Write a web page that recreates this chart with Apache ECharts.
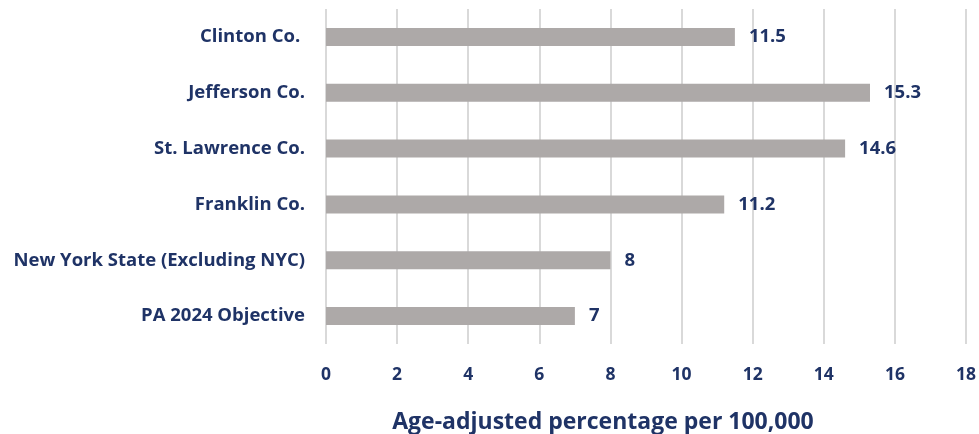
<!DOCTYPE html>
<html><head><meta charset="utf-8">
<script src="https://cdn.jsdelivr.net/npm/echarts@6/dist/echarts.min.js"></script>
<style>html,body{margin:0;padding:0;background:#fff}#c{width:979px;height:434px}</style>
</head><body><div id="c"></div>
<script>
const categories = ["Clinton Co. ", "Jefferson Co.", "St. Lawrence Co.", "Franklin Co.", "New York State (Excluding NYC)", "PA 2024 Objective"];
const values = [11.5, 15.3, 14.6, 11.2, 8, 7];
const xTicks = [0, 2, 4, 6, 8, 10, 12, 14, 16, 18];
const axisTitle = "Age-adjusted percentage per 100,000";

const navy = "#1F3366";
const font = "'Open Sans', sans-serif";
const chart = echarts.init(document.getElementById('c'));
chart.setOption({
  animation: false,
  grid: {left: 326, right: 13, top: 9, bottom: 90, containLabel: false, outerBoundsMode: 'none'},
  xAxis: {
    type: 'value', min: xTicks[0], max: xTicks[xTicks.length-1], interval: 2,
    axisLine: {show: false}, axisTick: {show: false},
    splitLine: {show: true, lineStyle: {color: '#D9D9D9', width: 2}},
    axisLabel: {color: navy, fontFamily: font, fontWeight: 'bold', fontSize: 17.5, margin: 22},
    name: axisTitle, nameLocation: 'middle', nameGap: 67,
    nameTextStyle: {color: navy, fontFamily: font, fontWeight: 'bold', fontSize: 23, padding: [0, 86, 0, 0]}
  },
  yAxis: {
    type: 'category', data: categories, inverse: true,
    axisLine: {show: false}, axisTick: {show: false},
    axisLabel: {color: navy, fontFamily: font, fontWeight: 'bold', fontSize: 18.5, margin: 21}
  },
  series: [{
    type: 'bar', data: values, barWidth: 18,
    itemStyle: {color: '#ADA9A8'},
    label: {show: true, position: 'right', distance: 14, color: navy, fontFamily: font, fontWeight: 'bold', fontSize: 18.5}
  }]
});
</script></body></html>
